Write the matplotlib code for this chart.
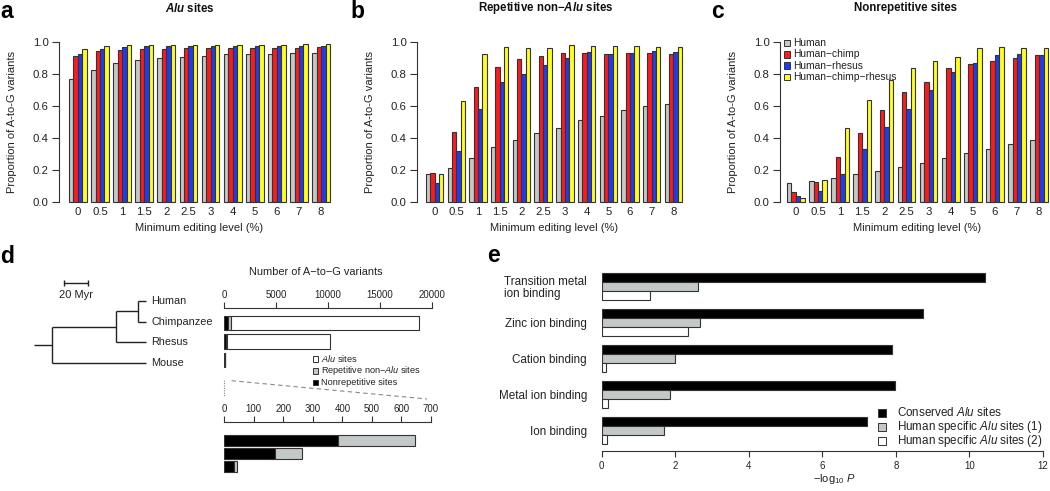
import numpy as np
import matplotlib
matplotlib.use('Agg')
import matplotlib.pyplot as plt
from matplotlib.patches import Rectangle

plt.rcParams['font.family'] = ['Liberation Sans', 'DejaVu Sans']
plt.rcParams['mathtext.fontset'] = 'custom'
plt.rcParams['mathtext.rm'] = 'Liberation Sans'
plt.rcParams['mathtext.it'] = 'Liberation Sans:italic'
plt.rcParams['mathtext.bf'] = 'Liberation Sans:bold'
HAS_BFIT = 'mathtext.bfit' in plt.rcParams
if HAS_BFIT:
    plt.rcParams['mathtext.bfit'] = 'Liberation Sans:bold:italic'
BFIT = r'\mathbfit' if HAS_BFIT else r'\mathit'

# ---------------- data ----------------
levels = ['0', '0.5', '1', '1.5', '2', '2.5', '3', '4', '5', '6', '7', '8']
series_names = ['Human', 'Human−chimp', 'Human−rhesus', 'Human−chimp−rhesus']

alu_human = [0.770, 0.823, 0.869, 0.890, 0.902, 0.906, 0.915, 0.923, 0.925, 0.927, 0.929, 0.931]
alu_chimp = [0.912, 0.942, 0.952, 0.954, 0.958, 0.960, 0.960, 0.962, 0.964, 0.964, 0.964, 0.966]
alu_rhesus = [0.923, 0.954, 0.967, 0.973, 0.973, 0.973, 0.973, 0.973, 0.975, 0.975, 0.975, 0.975]
alu_hcr = [0.956, 0.975, 0.979, 0.981, 0.983, 0.983, 0.983, 0.983, 0.983, 0.983, 0.985, 0.985]

rep_human = [0.175, 0.212, 0.277, 0.342, 0.390, 0.429, 0.462, 0.512, 0.535, 0.577, 0.598, 0.612]
rep_chimp = [0.181, 0.435, 0.719, 0.846, 0.894, 0.912, 0.929, 0.929, 0.927, 0.929, 0.929, 0.927]
rep_rhesus = [0.117, 0.317, 0.579, 0.752, 0.802, 0.858, 0.898, 0.937, 0.927, 0.933, 0.942, 0.940]
rep_hcr = [0.173, 0.631, 0.925, 0.967, 0.965, 0.965, 0.983, 0.977, 0.973, 0.973, 0.967, 0.967]

non_human = [0.117, 0.131, 0.152, 0.177, 0.196, 0.219, 0.244, 0.275, 0.304, 0.333, 0.362, 0.385]
non_chimp = [0.060, 0.125, 0.281, 0.433, 0.575, 0.687, 0.748, 0.840, 0.860, 0.881, 0.902, 0.917]
non_rhesus = [0.040, 0.071, 0.175, 0.329, 0.469, 0.583, 0.700, 0.815, 0.871, 0.917, 0.925, 0.917]
non_hcr = [0.027, 0.140, 0.462, 0.640, 0.760, 0.837, 0.881, 0.904, 0.960, 0.969, 0.962, 0.960]

# panel d
tree_tips = ['Human', 'Chimpanzee', 'Rhesus', 'Mouse']
split_hc_myr = 6.7
split_hcr_myr = 25.0
split_root_myr = 78.0
root_stub_myr = 15.0
scale_bar_myr = 20
bar_species = ['Chimpanzee', 'Rhesus', 'Mouse']
nonrep_counts = [385, 173, 34]
rep_nonalu_counts = [260, 91, 10]
alu_counts = [18120, 9930, 0]
count_categories = ['$\\mathit{Alu}$ sites', 'Repetitive non−$\\mathit{Alu}$ sites', 'Nonrepetitive sites']

# panel e
go_terms = ['Transition metal\nion binding', 'Zinc ion binding', 'Cation binding',
            'Metal ion binding', 'Ion binding']
conserved_alu = [10.41, 8.73, 7.89, 7.98, 7.21]
human_specific_1 = [2.63, 2.68, 1.995, 1.85, 1.70]
human_specific_2 = [1.30, 2.34, 0.126, 0.16, 0.15]
e_series = ['Conserved $\\mathit{Alu}$ sites', 'Human specific $\\mathit{Alu}$ sites (1)',
            'Human specific $\\mathit{Alu}$ sites (2)']

# ---------------- style ----------------
GRAY = '#c2c9c8'
COLS = [GRAY, '#ff1a1a', '#1f3cf5', '#ffff1a']
EDGE = '#333333'
W, H = 1050, 491

fig = plt.figure(figsize=(W / 100, H / 100), dpi=100)
ov = fig.add_axes([0, 0, 1, 1], zorder=5)
ov.set_xlim(0, W)
ov.set_ylim(H, 0)
ov.axis('off')
ov.patch.set_alpha(0)


def px_axes(l, t, r, b):
    return fig.add_axes([l / W, 1 - b / H, (r - l) / W, (b - t) / H])


def T(x, y, s, size, **kw):
    kw.setdefault('ha', 'center')
    kw.setdefault('va', 'center')
    return ov.text(x, y, s, fontsize=size, **kw)


def bar_panel(spine_x, b0, b1, vals_list, title, title_x, ylab_x, plabel, plabel_x):
    s = (b1 - b0) / 59.0
    pad = 0.04 * 59
    right = b1 + pad * s
    ax = px_axes(spine_x, 35.6, right, 208.4)
    ax.set_xlim(1 - (b0 - spine_x) / s, 60 + pad)
    ax.set_ylim(-0.04, 1.04)
    n = len(levels)
    for j, vals in enumerate(vals_list):
        x = 1 + 5 * np.arange(n) + j + 0.5
        ax.bar(x, vals, width=1, color=COLS[j], edgecolor=EDGE, linewidth=0.8)
    for sp in ['top', 'right', 'bottom']:
        ax.spines[sp].set_visible(False)
    ax.spines['left'].set_bounds(0, 1)
    ax.spines['left'].set_linewidth(0.8)
    ax.spines['left'].set_color(EDGE)
    ax.set_yticks(np.arange(0, 1.01, 0.2))
    ax.set_yticklabels(['%.1f' % v for v in np.arange(0, 1.01, 0.2)])
    ax.tick_params(axis='y', length=5, width=0.8, pad=2.5, labelsize=8.2, color=EDGE, labelcolor='#222')
    ax.set_xticks(1 + 5 * np.arange(n) + 2)
    ax.set_xticklabels(levels)
    ax.tick_params(axis='x', length=0, pad=-1, labelsize=8.2, labelcolor='#222')
    ax.patch.set_alpha(0)
    xc = (b0 + b1) / 2
    T(xc, 228, 'Minimum editing level (%)', 8, color='#222')
    T(ylab_x, 122, 'Proportion of A-to-G variants', 8, rotation=90, color='#222')
    T(title_x, 8, title, 8.3, fontweight='bold', color='#111')
    T(plabel_x, 18, plabel, 16.5, fontweight='bold', ha='left', va='baseline')
    return ax


bar_panel(59, 69, 330, [alu_human, alu_chimp, alu_rhesus, alu_hcr],
          '$' + BFIT + '{Alu}$ sites', 190, 12.5, 'a', 0)
bar_panel(417, 426, 682, [rep_human, rep_chimp, rep_rhesus, rep_hcr],
          'Repetitive non−$' + BFIT + '{Alu}$ sites', 546, 370, 'b', 350)
axc = bar_panel(780, 787, 1048, [non_human, non_chimp, non_rhesus, non_hcr],
                'Nonrepetitive sites', 906, 733, 'c', 711)

# legend c
for j, name in enumerate(series_names):
    yy = 43 + j * 11.3
    ov.add_patch(Rectangle((783.5, yy - 3.3), 6.6, 6.6, facecolor=COLS[j], edgecolor=EDGE, linewidth=0.7))
    T(793, yy, name, 7.4, ha='left', color='#222')

# ---------------- panel d ----------------
T(0, 263, 'd', 16.5, fontweight='bold', ha='left', va='baseline')

# tree (pixel scale: 1.2 px per Myr)
pxm = 1.2
tip_x = 146
tip_y = [301 + i * 20.7 for i in range(len(tree_tips))]
x_hc = tip_x - split_hc_myr * pxm
x_hcr = tip_x - split_hcr_myr * pxm
x_root = tip_x - split_root_myr * pxm
y_hc = (tip_y[0] + tip_y[1]) / 2
y_hcr = (y_hc + tip_y[2]) / 2
y_root = (y_hcr + tip_y[3]) / 2
lk = dict(color='#222', linewidth=1.0, solid_capstyle='butt')
segs = [
    ([x_hc, tip_x], [tip_y[0], tip_y[0]]),
    ([x_hc, tip_x], [tip_y[1], tip_y[1]]),
    ([x_hc, x_hc], [tip_y[0], tip_y[1]]),
    ([x_hcr, x_hc], [y_hc, y_hc]),
    ([x_hcr, tip_x], [tip_y[2], tip_y[2]]),
    ([x_hcr, x_hcr], [y_hc, tip_y[2]]),
    ([x_root, x_hcr], [y_hcr, y_hcr]),
    ([x_root, tip_x], [tip_y[3], tip_y[3]]),
    ([x_root, x_root], [y_hcr, tip_y[3]]),
    ([x_root - root_stub_myr * pxm, x_root], [y_root, y_root]),
]
for xs, ys in segs:
    ov.plot(xs, ys, **lk)
for name, yy in zip(tree_tips, tip_y):
    T(tip_x + 5, yy, name, 7.8, ha='left', color='#222')
sb0, sb1 = 64, 64 + scale_bar_myr * pxm
ov.plot([sb0, sb1], [283, 283], **lk)
ov.plot([sb0, sb0], [280.3, 285.7], **lk)
ov.plot([sb1, sb1], [280.3, 285.7], **lk)
T((sb0 + sb1) / 2, 295, '%d Myr' % scale_bar_myr, 8, color='#222')

d_cols = ['black', GRAY, 'white']


def count_axes(l, t, r, b, xmax, step, ylim, height, series):
    ax = px_axes(l, t, r, b)
    y = np.arange(len(bar_species))
    left = np.zeros(len(bar_species))
    for vals, col in zip(series, d_cols):
        ax.barh(y, vals, left=left, height=height, color=col, edgecolor=EDGE, linewidth=0.8)
        left = left + np.array(vals)
    ax.set_xlim(0, xmax)
    ax.set_ylim(*ylim)
    for sp in ['bottom', 'left', 'right']:
        ax.spines[sp].set_visible(False)
    ax.spines['top'].set_bounds(0, xmax)
    ax.spines['top'].set_linewidth(0.8)
    ax.spines['top'].set_color(EDGE)
    ax.xaxis.tick_top()
    ax.set_xticks(np.arange(0, xmax + 1, step))
    ax.tick_params(axis='x', length=4, width=0.8, pad=2, labelsize=6.9, color=EDGE, labelcolor='#222')
    ax.set_yticks([])
    ax.patch.set_alpha(0)
    return ax


axt = count_axes(224.3, 308, 431.7, 372, 20000, 5000, (2.65, -0.81), 0.8,
                 [nonrep_counts, rep_nonalu_counts, alu_counts])
axb = count_axes(224.3, 422, 431.0, 476, 700, 100, (2.73, -1.42), 0.846,
                 [nonrep_counts, rep_nonalu_counts])
T(316, 272, 'Number of A−to−G variants', 7.9, color='#222')

# connector lines between the two scales
x_top700 = 224.3 + 700 * (431.7 - 224.3) / 20000
x_bot700 = 224.3 + 700 * (431.0 - 224.3) / 700
ov.plot([224.3, 224.3], [380, 397], color='#888', linewidth=0.8, linestyle=(0, (1, 1.2)))
ov.plot([x_top700, x_bot700 - 4], [380.7, 399], color='#888', linewidth=0.8, linestyle=(0, (4, 3)))

# legend d
for j, (name, col) in enumerate(zip(count_categories, ['white', GRAY, 'black'])):
    yy = 359 + j * 11.8
    ov.add_patch(Rectangle((312.7, yy - 2.8), 5.6, 5.6, facecolor=col, edgecolor=EDGE, linewidth=0.7))
    T(320.7, yy, name, 6.6, ha='left', color='#222')

# ---------------- panel e ----------------
T(487, 262, 'e', 16.5, fontweight='bold', ha='left', va='baseline')
axe = px_axes(601.7, 265.8, 1043, 451.2)
ng = len(go_terms)
e_cols = ['black', GRAY, 'white']
for j, (vals, col) in enumerate(zip([conserved_alu, human_specific_1, human_specific_2], e_cols)):
    y = 4 * np.arange(ng) + j + 0.5
    axe.barh(y, vals, height=1, color=col, edgecolor=EDGE, linewidth=0.8)
axe.set_xlim(0, 12)
axe.set_ylim(19.76, -0.76)
for sp in ['top', 'left', 'right']:
    axe.spines[sp].set_visible(False)
axe.spines['bottom'].set_bounds(0, 12)
axe.spines['bottom'].set_linewidth(0.8)
axe.spines['bottom'].set_color(EDGE)
axe.set_xticks(np.arange(0, 13, 2))
axe.tick_params(axis='x', length=4, width=0.8, pad=3, labelsize=7, color=EDGE, labelcolor='#222')
axe.set_yticks(4 * np.arange(ng) + 1.5)
axe.set_yticklabels(go_terms)
axe.tick_params(axis='y', length=0, pad=10.5, labelsize=8.4, labelcolor='#222')
for t in axe.get_yticklabels():
    t.set_multialignment('left')
    t.set_linespacing(1.05)
axe.patch.set_alpha(0)
T(834, 479, r'$-\mathrm{log}_{10}\ \mathit{P}$', 8, color='#222')

for j, (name, col) in enumerate(zip(e_series, e_cols)):
    yy = 412.7 + j * 14
    ov.add_patch(Rectangle((878, yy - 4), 8, 8, facecolor=col, edgecolor=EDGE, linewidth=0.7))
    T(897, yy, name, 8.4, ha='left', color='#222')

fig.savefig('out.png', dpi=100)
